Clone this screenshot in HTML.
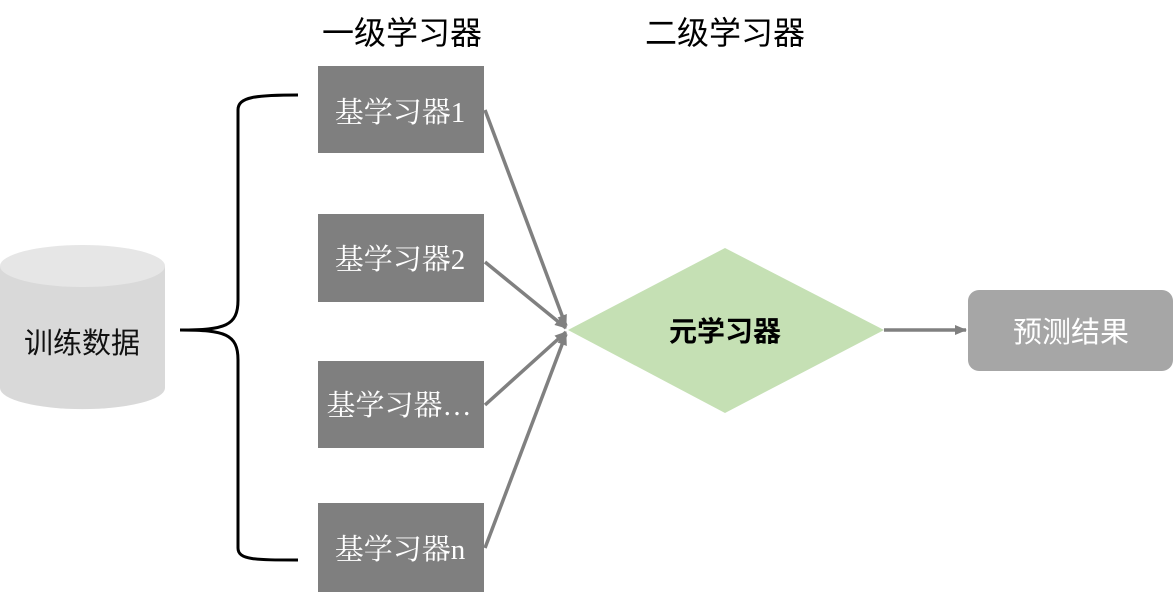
<!DOCTYPE html>
<html><head><meta charset="utf-8"><style>
body{margin:0;background:#fff;}
svg text{font-family:"Liberation Serif","Noto Serif CJK SC","Noto Sans CJK SC",serif;}
.s{font-family:"Liberation Sans","Noto Sans CJK SC",sans-serif !important;}
</style></head><body>
<svg width="1174" height="592" viewBox="0 0 1174 592" xmlns="http://www.w3.org/2000/svg">
<defs><marker id="a" markerWidth="12" markerHeight="10" refX="11" refY="5" orient="auto" markerUnits="userSpaceOnUse"><path d="M0,0 L12,5 L0,10 z" fill="#808080"/></marker>
<marker id="b" markerWidth="12" markerHeight="10" refX="11" refY="5" orient="auto" markerUnits="userSpaceOnUse"><path d="M0,0 L12,5 L0,10 z" fill="#808080"/></marker></defs>
<text x="402" y="44" font-size="32" text-anchor="middle" class="s">一级学习器</text>
<text x="725" y="44" font-size="32" text-anchor="middle" class="s">二级学习器</text>
<path d="M0,266 L0,388 A82,21 0 0 0 165,388 L165,266 Z" fill="#d9d9d9"/>
<ellipse cx="82.5" cy="266" rx="82.5" ry="21" fill="#e6e6e6"/>
<text x="82" y="353" font-size="29" text-anchor="middle" class="s" fill="#111">训练数据</text>
<path d="M298,95 C255,95 238,97 238,110 L238,300 C238,326 225,330 180,330 C225,330 238,334 238,360 L238,548 C238,560 255,560 298,560" fill="none" stroke="#000" stroke-width="3"/>
<g fill="#7f7f7f"><rect x="318" y="66" width="166" height="87"/><rect x="318" y="214" width="166" height="88"/><rect x="318" y="361" width="166" height="87"/><rect x="318" y="503" width="166" height="89"/></g>
<g fill="#fff" font-size="29" text-anchor="middle">
<text x="400" y="122">基学习器1</text><text x="400" y="269">基学习器2</text><text x="399" y="415">基学习器…</text><text x="400" y="559">基学习器n</text></g>
<g stroke="#808080" stroke-width="3.5" fill="none">
<line x1="485" y1="110" x2="566" y2="326" marker-end="url(#a)"/>
<line x1="485" y1="262" x2="566" y2="328" marker-end="url(#a)"/>
<line x1="485" y1="405" x2="566" y2="332" marker-end="url(#a)"/>
<line x1="485" y1="548" x2="566" y2="334" marker-end="url(#a)"/>
<line x1="884" y1="330" x2="966" y2="330" marker-end="url(#b)"/>
</g>
<polygon points="568,330 725,248 884,330 725,413" fill="#c5e0b4"/>
<text x="725" y="341" font-size="28" font-weight="bold" text-anchor="middle" class="s">元学习器</text>
<rect x="968" y="290" width="205" height="81" rx="11" fill="#a6a6a6"/>
<text x="1071" y="342" font-size="29" text-anchor="middle" class="s" fill="#fff">预测结果</text>
</svg>
</body></html>
